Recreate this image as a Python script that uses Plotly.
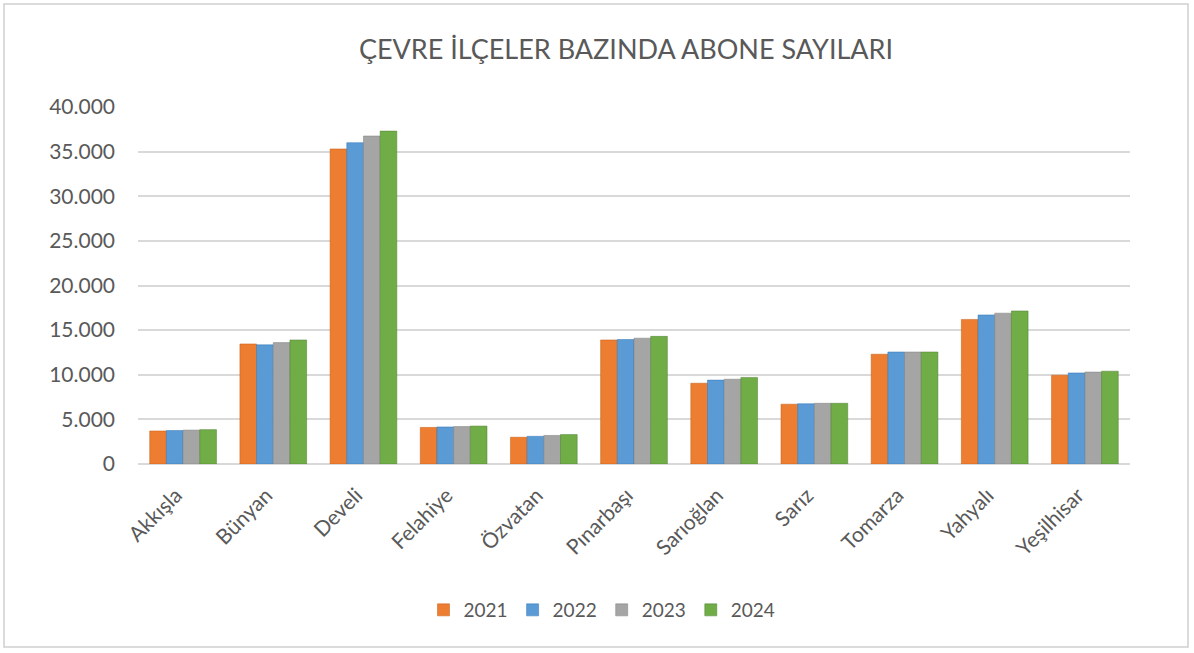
import plotly.graph_objects as go

categories = ["Akkışla", "Bünyan", "Develi", "Felahiye", "Özvatan", "Pınarbaşı",
              "Sarıoğlan", "Sarız", "Tomarza", "Yahyalı", "Yeşilhisar"]
years = ["2021", "2022", "2023", "2024"]
v2021 = [3700, 13450, 35300, 4100, 3000, 13900, 9050, 6700, 12300, 16200, 9950]
v2022 = [3750, 13350, 36000, 4150, 3100, 13950, 9400, 6750, 12550, 16700, 10200]
v2023 = [3800, 13600, 36750, 4200, 3200, 14100, 9500, 6800, 12550, 16900, 10300]
v2024 = [3850, 13900, 37300, 4250, 3300, 14300, 9700, 6800, 12550, 17150, 10400]
series = [v2021, v2022, v2023, v2024]
colors = ["#ED7D31", "#5B9BD5", "#A5A5A5", "#70AD47"]
line_colors = ["#C55A11", "#2E75B6", "#7F7F7F", "#507E32"]

fig = go.Figure()
for name, vals, c, lc in zip(years, series, colors, line_colors):
    fig.add_trace(go.Bar(x=categories, y=vals, name=name,
                         marker=dict(color=c, line=dict(color=lc, width=0.5))))

W, H = 1194, 653
ml, mr, mt, mb = 138, 64, 107, 189
pw, ph = W - ml - mr, H - mt - mb

def px_to_paper_x(px):
    return (px - ml) / pw

def px_to_paper_y(py):
    return (H - mb - py) / ph

font_family = "Lato, 'Open Sans', sans-serif"
fig.update_layout(
    width=W, height=H,
    margin=dict(l=ml, r=mr, t=mt, b=mb),
    paper_bgcolor="white", plot_bgcolor="white",
    barmode="group", bargap=0.26, bargroupgap=0,
    separators=",.",
    font=dict(family=font_family, color="#595959"),
    title=dict(text="ÇEVRE İLÇELER BAZINDA ABONE SAYILARI",
               x=626 / W, xanchor="center", y=1 - 50 / H, yanchor="middle",
               font=dict(size=27, color="#595959", family=font_family)),
    xaxis=dict(tickangle=-45, tickfont=dict(size=21, color="#595959"),
               showline=False, ticks="", showgrid=False,
               ticklabelstandoff=14, ticklabelshift=-7),
    yaxis=dict(range=[0, 40000], dtick=5000, tickformat=",d",
               tickfont=dict(size=21, color="#595959"),
               showgrid=True, gridcolor="#D9D9D9", gridwidth=1.5,
               zeroline=True, zerolinecolor="#D9D9D9", zerolinewidth=1.5,
               ticks="", ticklabelstandoff=22),
    legend=dict(orientation="h", x=0.5 - (634 - 602) / pw, xanchor="center",
                y=px_to_paper_y(610), yanchor="middle",
                font=dict(size=19, color="#595959"), itemwidth=30,
                traceorder="normal"),
    shapes=[dict(type="rect", xref="paper", yref="paper",
                 x0=px_to_paper_x(4), x1=px_to_paper_x(1188),
                 y0=px_to_paper_y(647), y1=px_to_paper_y(4),
                 line=dict(color="#D0D0D0", width=1.5), fillcolor="rgba(0,0,0,0)",
                 layer="below")],
)

fig.write_html("out.html", config={"displayModeBar": False},
               post_script="document.body.style.margin='0';document.body.style.overflow='hidden';")
